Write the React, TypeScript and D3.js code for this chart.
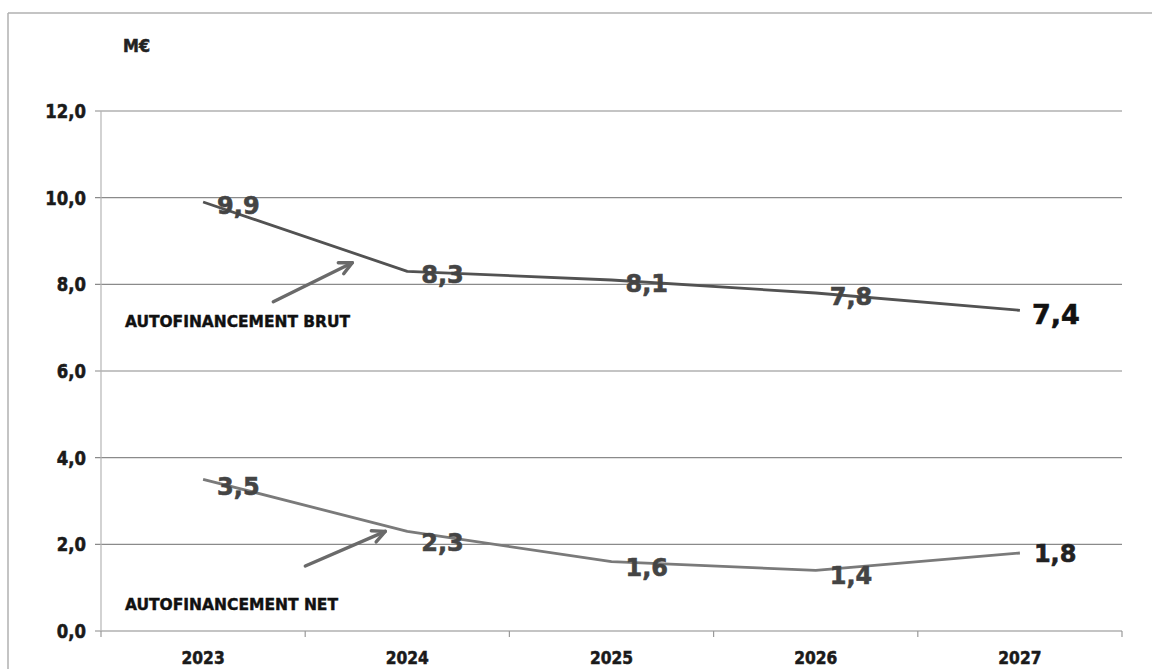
import React from "react";
import * as d3 from "d3";

const years = ["2023", "2024", "2025", "2026", "2027"];
const brut = [9.9, 8.3, 8.1, 7.8, 7.4];
const net = [3.5, 2.3, 1.6, 1.4, 1.8];
const yTicks = [0, 2, 4, 6, 8, 10, 12];
const fmt = (v: number) => v.toFixed(1).replace(".", ",");

const W = 1152;
const H = 669;

export default function App() {
  const x = d3.scaleBand().domain(years).range([101, 1122]).padding(0);
  const y = d3.scaleLinear().domain([0, 12]).range([631, 111]);
  const cx = (i: number) => (x(years[i]) as number) + x.bandwidth() / 2;
  const line = d3
    .line<number>()
    .x((_, i) => cx(i))
    .y((d) => y(d))
    .curve(d3.curveLinear);

  const boundaries = years.map((yr) => x(yr) as number).concat([x.range()[1]]);
  const font = "'DejaVu Sans', Verdana, sans-serif";

  const arrow = (x1: number, y1: number, x2: number, y2: number) => {
    const ang = Math.atan2(y2 - y1, x2 - x1);
    const L = 14;
    const a1 = ang + Math.PI - 0.45;
    const a2 = ang + Math.PI + 0.45;
    return (
      <g stroke="#6a6a6a" strokeWidth={3.4} fill="none" strokeLinecap="round" strokeLinejoin="round">
        <line x1={x1} y1={y1} x2={x2} y2={y2} />
        <polyline
          points={`${x2 + L * Math.cos(a1)},${y2 + L * Math.sin(a1)} ${x2},${y2} ${x2 + L * Math.cos(a2)},${y2 + L * Math.sin(a2)}`}
        />
      </g>
    );
  };

  return (
    <svg
      width={W}
      height={H}
      style={{ position: "absolute", left: 0, top: 0, background: "#fff" }}
    >
      <rect x={0} y={0} width={W} height={H} fill="#fff" />
      {/* frame */}
      <line x1={8} y1={13} x2={W} y2={13} stroke="#b0b0b0" strokeWidth={1.5} />
      <line x1={8} y1={13} x2={8} y2={H} stroke="#b0b0b0" strokeWidth={1.5} />

      <text
        transform={`translate(123,52) scale(1,1.15)`}
        fontFamily={font}
        fontWeight="bold"
        fontSize={16}
        fill="#222"
        stroke="#222"
        strokeWidth={0.5}
      >
        M€
      </text>

      {/* grid */}
      {yTicks.map((t) => (
        <g key={t}>
          <line x1={95} x2={1122} y1={y(t)} y2={y(t)} stroke="#8a8a8a" strokeWidth={1.2} />
          <text
            transform={`translate(86,${y(t) + 7}) scale(1,1.2)`}
            textAnchor="end"
            fontFamily={font}
            fontWeight="bold"
            fontSize={16.5}
            fill="#1a1a1a"
            stroke="#1a1a1a"
            strokeWidth={0.5}
          >
            {fmt(t)}
          </text>
        </g>
      ))}
      <line x1={101} x2={101} y1={y(12)} y2={y(0)} stroke="#b5b5b5" strokeWidth={1.2} />

      {/* x ticks */}
      {boundaries.map((b, i) => (
        <line key={i} x1={b} x2={b} y1={y(0)} y2={y(0) + 6} stroke="#9a9a9a" strokeWidth={1.2} />
      ))}
      {years.map((yr, i) => (
        <text
          key={yr}
          transform={`translate(${cx(i)},664) scale(1,1.1)`}
          textAnchor="middle"
          fontFamily={font}
          fontWeight="bold"
          fontSize={15.5}
          fill="#1a1a1a"
          stroke="#1a1a1a"
          strokeWidth={0.5}
        >
          {yr}
        </text>
      ))}

      {/* lines */}
      <path d={line(brut) || ""} fill="none" stroke="#525252" strokeWidth={2.8} strokeLinejoin="round" />
      <path d={line(net) || ""} fill="none" stroke="#7a7a7a" strokeWidth={2.8} strokeLinejoin="round" />

      {/* labels */}
      {brut.map((v, i) => {
        const last = i === brut.length - 1;
        return (
          <text
            key={"b" + i}
            x={cx(i) + (last ? 12 : 14)}
            y={y(v) + (last ? 14 : 12)}
            fontFamily={font}
            fontWeight="bold"
            fontSize={last ? 27 : 24}
            fill={last ? "#111" : "#444"}
            stroke={last ? "#111" : "#444"}
            strokeWidth={0.6}
          >
            {fmt(v)}
          </text>
        );
      })}
      {net.map((v, i) => {
        const last = i === net.length - 1;
        return (
          <text
            key={"n" + i}
            x={cx(i) + 14}
            y={y(v) + (i === 0 ? 16 : i === 1 ? 20 : last ? 9 : 14)}
            fontFamily={font}
            fontWeight="bold"
            fontSize={24}
            fill={last ? "#222" : "#444"}
            stroke={last ? "#222" : "#444"}
            strokeWidth={0.6}
          >
            {fmt(v)}
          </text>
        );
      })}

      {/* annotations */}
      {arrow(cx(1) - 134, y(7.6), cx(1) - 55, y(8.5))}
      {arrow(cx(1) - 102, y(1.5), cx(1) - 22, y(2.3))}
      <text
        x={125}
        y={327}
        fontFamily="'DejaVu Sans Condensed', 'DejaVu Sans', sans-serif"
        fontWeight="bold"
        fontSize={16}
        textLength={225}
        lengthAdjust="spacingAndGlyphs"
        fill="#111"
        stroke="#111"
        strokeWidth={0.4}
      >
        AUTOFINANCEMENT BRUT
      </text>
      <text
        x={125}
        y={610}
        fontFamily="'DejaVu Sans Condensed', 'DejaVu Sans', sans-serif"
        fontWeight="bold"
        fontSize={16}
        textLength={213}
        lengthAdjust="spacingAndGlyphs"
        fill="#111"
        stroke="#111"
        strokeWidth={0.4}
      >
        AUTOFINANCEMENT NET
      </text>
    </svg>
  );
}
